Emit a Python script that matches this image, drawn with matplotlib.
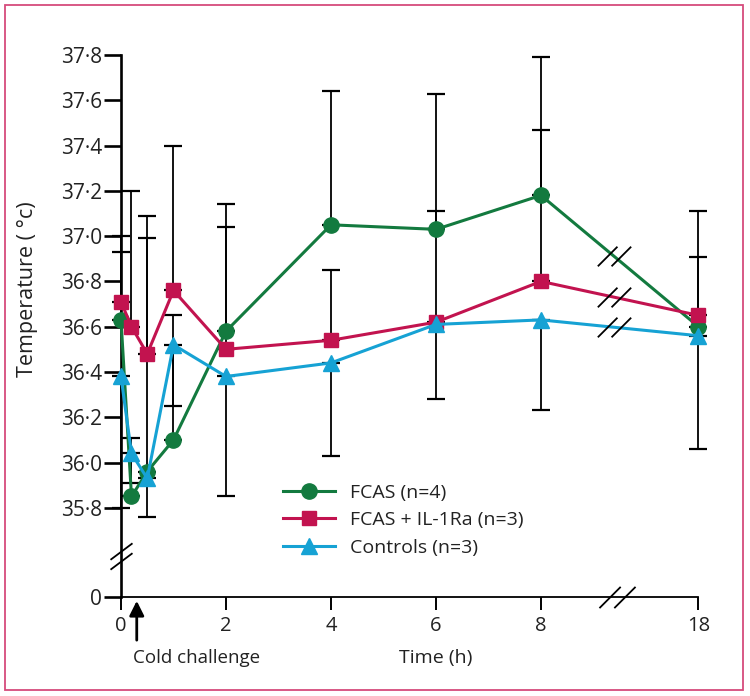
import numpy as np
import matplotlib
matplotlib.use("Agg")
import matplotlib.pyplot as plt
from matplotlib.path import Path
from matplotlib.patches import Rectangle

plt.rcParams['font.family'] = ['Open Sans', 'DejaVu Sans']

# ---------------- data ----------------
time_h = [0, 0.2, 0.5, 1, 2, 4, 6, 8, 18]
fcas = [36.63, 35.85, 35.96, 36.10, 36.58, 37.05, 37.03, 37.18, 36.60]
fcas_il1ra = [36.71, 36.60, 36.48, 36.76, 36.50, 36.54, 36.62, 36.80, 36.65]
controls = [36.38, 36.04, 35.93, 36.52, 36.38, 36.44, 36.61, 36.63, 36.56]

fcas_err_up = [0.37, 0.26, 1.03, 0.55, 0.56, 0.59, 0.60, 0.61, 0.51]
fcas_il1ra_err_up = [0.22, 0.60, 0.61, 0.64, 0.54, 0.31, 0.49, 0.67, 0.26]
controls_err_down = [0.58, 0.13, 0.17, 0.27, 0.53, 0.41, 0.33, 0.40, 0.50]

series_labels = ['FCAS (n=4)', 'FCAS + IL-1Ra (n=3)', 'Controls (n=3)']
y_ticks = [0, 35.8, 36.0, 36.2, 36.4, 36.6, 36.8, 37.0, 37.2, 37.4, 37.6, 37.8]
y_tick_labels = ['0', '35·8', '36·0', '36·2', '36·4', '36·6', '36·8',
                 '37·0', '37·2', '37·4', '37·6', '37·8']
x_ticks = [0, 2, 4, 6, 8, 18]
x_tick_labels = ['0', '2', '4', '6', '8', '18']

GREEN = '#137a3f'
RED = '#c2134f'
BLUE = '#16a2d4'

# ---------------- broken scales ----------------
Y_T = 35.5          # linear above this
Y_Z = 35.406        # where 0 is drawn
def y_fwd(v):
    v = np.asarray(v, dtype=float)
    return np.where(v >= Y_T, v, Y_Z + v * (Y_T - Y_Z) / Y_T)
def y_inv(d):
    d = np.asarray(d, dtype=float)
    return np.where(d >= Y_T, d, (d - Y_Z) * Y_T / (Y_T - Y_Z))

X_B = 8
X_S = 0.3
def x_fwd(t):
    t = np.asarray(t, dtype=float)
    return np.where(t <= X_B, t, X_B + (t - X_B) * X_S)
def x_inv(d):
    d = np.asarray(d, dtype=float)
    return np.where(d <= X_B, d, X_B + (d - X_B) / X_S)

fig = plt.figure(figsize=(7.5, 6.96), dpi=100)
ax = fig.add_axes([105.25 / 750, (696 - 597) / 696, 603.75 / 750, 553.3 / 696])
ax.set_xscale('function', functions=(x_fwd, x_inv))
ax.set_yscale('function', functions=(y_fwd, y_inv))
ax.set_xlim(-0.3, 18.667)
ax.set_ylim(0, 37.85)

zeros = np.zeros(len(time_h))
eb_kw = dict(fmt='none', ecolor='black', elinewidth=1.3, capsize=6.2,
             capthick=1.6, zorder=2)
ax.errorbar(time_h, fcas, yerr=[zeros, fcas_err_up], **eb_kw)
ax.errorbar(time_h, fcas_il1ra, yerr=[zeros, fcas_il1ra_err_up], **eb_kw)
ax.errorbar(time_h, controls, yerr=[controls_err_down, zeros], **eb_kw)

l1, = ax.plot(time_h, fcas, color=GREEN, marker='o', ms=11, lw=2.2,
              zorder=3, label=series_labels[0], clip_on=False)
l2, = ax.plot(time_h, fcas_il1ra, color=RED, marker='s', ms=10.5, lw=2.2,
              zorder=4, label=series_labels[1], clip_on=False)
l3, = ax.plot(time_h, controls, color=BLUE, marker='^', ms=12, lw=2.2,
              zorder=5, label=series_labels[2], clip_on=False)

# ---------------- break marks ----------------
codes = [Path.MOVETO, Path.LINETO, Path.MOVETO, Path.LINETO]
slash_h = Path([(-17, -10), (3, 10), (-3, -10), (17, 10)], codes)
slash_v = Path([(-10, -12), (10, 3), (-10, -3), (10, 12)], codes)

brk_disp = 9.39
frac = (brk_disp - X_B) / (x_fwd(18) - X_B)
brk_t = float(x_inv(brk_disp))
for s in (fcas, fcas_il1ra, controls):
    yb = s[7] + frac * (s[8] - s[7])
    ax.plot([brk_t], [yb], marker=slash_h, ms=24, mew=1.3, color='black',
            fillstyle='none', linestyle='none', zorder=6)
ax.plot([float(x_inv(9.45))], [0], marker=slash_h, ms=26, mew=1.3,
        color='black', fillstyle='none', linestyle='none', zorder=6,
        clip_on=False)
ax.plot([0], [35.585], marker=slash_v, ms=19, mew=1.3, color='black',
        fillstyle='none', linestyle='none', zorder=6, clip_on=False)

# ---------------- axes styling ----------------
for sp in ('top', 'right'):
    ax.spines[sp].set_visible(False)
ax.spines['left'].set_position(('data', 0))
ax.spines['left'].set_bounds(0, 37.8)
ax.spines['left'].set_linewidth(1.9)
ax.spines['bottom'].set_bounds(0, 18)
ax.spines['bottom'].set_linewidth(1.3)

ax.set_yticks(y_ticks)
ax.set_yticklabels(y_tick_labels)
ax.set_xticks(x_ticks)
ax.set_xticklabels(x_tick_labels)
ax.yaxis.set_minor_locator(matplotlib.ticker.NullLocator())
ax.xaxis.set_minor_locator(matplotlib.ticker.NullLocator())
ax.tick_params(axis='y', direction='out', length=12, width=1.9, pad=1.5,
               labelsize=15, labelcolor='#222222')
ax.tick_params(axis='x', direction='out', length=9.5, width=1.4, pad=4,
               labelsize=14.5, labelcolor='#222222')

fig.text(28 / 750, 1 - 289 / 696, 'Temperature ( °c)', rotation=90,
         ha='center', va='center', fontsize=15.5, color='#222222')

ax.text(6, -0.110, 'Time (h)', transform=ax.get_xaxis_transform(),
        ha='center', va='center', fontsize=14, color='#222222')
ax.text(0.23, -0.110, 'Cold challenge', transform=ax.get_xaxis_transform(),
        ha='left', va='center', fontsize=13.5, color='#222222')
ax.annotate('', xy=(0.3, -0.007), xytext=(0.3, -0.078),
            xycoords=ax.get_xaxis_transform(), textcoords=ax.get_xaxis_transform(),
            arrowprops=dict(arrowstyle='-|>', mutation_scale=22, lw=2,
                            color='black', shrinkA=0, shrinkB=0))

leg = ax.legend(handles=[l1, l2, l3], loc='upper left',
                bbox_to_anchor=(0.2944, 0.205), frameon=False,
                fontsize=14, handlelength=2.67, handletextpad=0.77,
                labelspacing=0.5, borderpad=0, borderaxespad=0)
for t in leg.get_texts():
    t.set_color('#222222')

fig.patches.append(Rectangle((5 / 750, 6 / 696), 738 / 750, 685 / 696,
                             transform=fig.transFigure, fill=False,
                             ec='#d64b7c', lw=1.3))

fig.savefig('out.png', dpi=100)
